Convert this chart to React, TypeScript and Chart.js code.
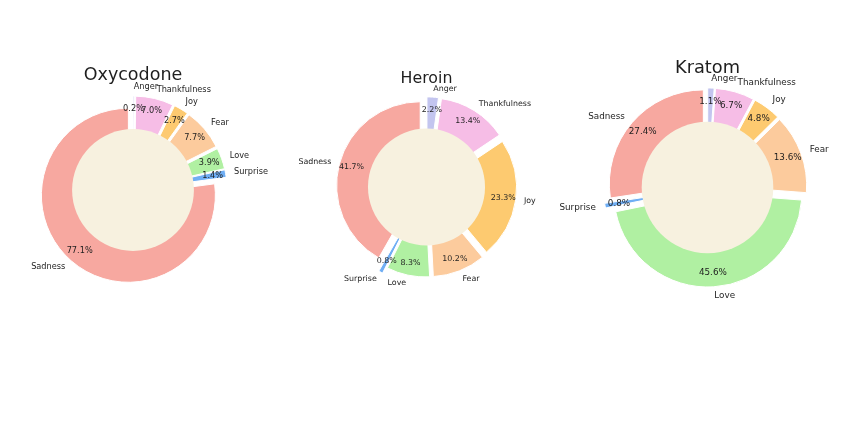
import React, { useEffect, useRef } from 'react';
import { Chart, registerables } from 'chart.js';

Chart.register(...registerables);

const W = 868;
const H = 444;

// ---- data ----
const emotions = ['Anger', 'Thankfulness', 'Joy', 'Fear', 'Love', 'Surprise', 'Sadness'];
const drugTitles = ['Oxycodone', 'Heroin', 'Kratom'];
const oxycodoneShares = [0.2, 7.0, 2.7, 7.7, 3.9, 1.4, 77.1];
const heroinShares = [2.2, 13.4, 23.3, 10.2, 8.3, 0.8, 41.7];
const kratomShares = [1.1, 6.7, 4.8, 13.6, 45.6, 0.8, 27.4];

// ---- styles ----
const palette = ['#c3c5ef', '#f6bde6', '#fdca70', '#fccb9d', '#b0f0a2', '#6faef4', '#f7a8a0'];
const creamColor = '#f7f1df';
const textColor = '#1e1e1e';
const FONT = '"DejaVu Sans", "Liberation Sans", sans-serif';

type Layout = {
  cx: number; cy: number; r: number; explode: number; surpriseExplode: number;
  titleSize: number; titleY: number; fontSize: number;
};

const layouts: Layout[] = [
  { cx: 133, cy: 190, r: 87, explode: 7, surpriseExplode: 7, titleSize: 17.5, titleY: 75, fontSize: 8.2 },
  { cx: 426.5, cy: 187, r: 83.6, explode: 6.5, surpriseExplode: 13, titleSize: 15.8, titleY: 79, fontSize: 7.9 },
  { cx: 707.5, cy: 187.5, r: 94, explode: 5.5, surpriseExplode: 10, titleSize: 17.8, titleY: 68, fontSize: 8.8 },
];

function PieCanvas({ title, labels, values, layout }: { title: string; labels: string[]; values: number[]; layout: Layout }) {
  const ref = useRef<HTMLCanvasElement | null>(null);

  useEffect(() => {
    const canvas = ref.current;
    if (!canvas) return;
    const padLeft = Math.max(0, 2 * layout.cx - W);
    const padRight = Math.max(0, W - 2 * layout.cx);
    const padTop = Math.max(0, 2 * layout.cy - H);
    const padBottom = Math.max(0, H - 2 * layout.cy);

    const explodePlugin = {
      id: 'explodeSlices',
      afterDatasetsUpdate(chart: any) {
        const meta = chart.getDatasetMeta(0);
        meta.data.forEach((el: any, i: number) => {
          const mid = (el.startAngle + el.endAngle) / 2;
          const off = labels[i] === 'Surprise' ? layout.surpriseExplode : layout.explode;
          el.x += Math.cos(mid) * off;
          el.y += Math.sin(mid) * off;
        });
      },
      afterDatasetsDraw(chart: any) {
        const ctx: CanvasRenderingContext2D = chart.ctx;
        const area = chart.chartArea;
        const cx = (area.left + area.right) / 2;
        const cy = (area.top + area.bottom) / 2;
        const meta = chart.getDatasetMeta(0);
        ctx.save();
        // centre circle
        const R = meta.data.length ? meta.data[0].outerRadius : layout.r;
        ctx.beginPath();
        ctx.arc(cx, cy, R * 0.7, 0, Math.PI * 2);
        ctx.fillStyle = creamColor;
        ctx.fill();

        ctx.fillStyle = textColor;
        ctx.textBaseline = 'middle';
        ctx.font = `${layout.fontSize}px ${FONT}`;
        meta.data.forEach((el: any, i: number) => {
          const mid = (el.startAngle + el.endAngle) / 2;
          const c = Math.cos(mid);
          const s = Math.sin(mid);
          const r = el.outerRadius;
          // percentage
          ctx.textAlign = 'center';
          ctx.fillText(values[i].toFixed(1) + '%', el.x + c * r * 0.85, el.y + s * r * 0.85);
          // label
          const lx = el.x + c * r * 1.1;
          const ly = el.y + s * r * 1.1;
          ctx.textAlign = lx - cx > 0 ? 'left' : 'right';
          ctx.fillText(labels[i], lx, ly);
        });

        // title
        ctx.textAlign = 'center';
        ctx.font = `${layout.titleSize}px ${FONT}`;
        ctx.fillText(title, cx, layout.titleY);
        ctx.restore();
      },
    };

    const chart = new Chart(canvas, {
      type: 'pie',
      data: {
        labels,
        datasets: [
          {
            data: values,
            backgroundColor: palette,
            borderColor: '#ffffff',
            borderWidth: 1,
          },
        ],
      },
      options: {
        responsive: false,
        animation: false,
        events: [],
        radius: layout.r,
        layout: { padding: { left: padLeft, right: padRight, top: padTop, bottom: padBottom } },
        plugins: {
          legend: { display: false },
          tooltip: { enabled: false },
          title: { display: false },
        },
      } as any,
      plugins: [explodePlugin],
    });
    return () => chart.destroy();
  }, [title, labels, values, layout]);

  return (
    <canvas
      ref={ref}
      width={W}
      height={H}
      style={{ position: 'absolute', left: 0, top: 0, width: W, height: H }}
    />
  );
}

export default function App() {
  const series = [oxycodoneShares, heroinShares, kratomShares];
  return (
    <div style={{ position: 'fixed', left: 0, top: 0, width: W, height: H, background: '#ffffff', overflow: 'hidden' }}>
      {drugTitles.map((t, i) => (
        <PieCanvas key={t} title={t} labels={emotions} values={series[i]} layout={layouts[i]} />
      ))}
    </div>
  );
}
